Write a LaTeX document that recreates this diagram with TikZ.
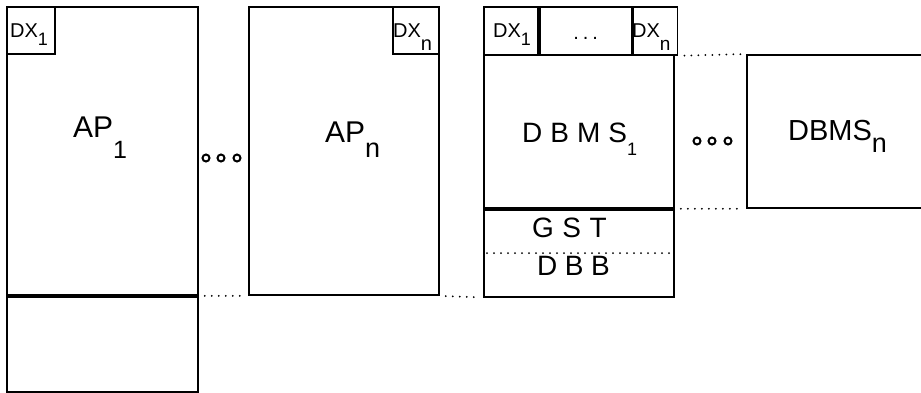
\documentclass[tikz,border=0pt]{standalone}
\usepackage{fontspec}
\setmainfont{Liberation Sans}
\usetikzlibrary{positioning}
\newcommand{\lowsub}[3]{\raisebox{-#1pt}{\fontsize{#2}{#2}\selectfont #3}}

\begin{document}
\begin{tikzpicture}[x=1pt,y=-1pt,
  frame/.style={draw,line width=1.8pt,inner sep=0pt,anchor=north west},
  gap/.style={line width=2pt,line cap=round,dash pattern=on 0pt off 7pt,shorten <=6pt,shorten >=5pt},
  ring/.style={draw,circle,line width=2pt,inner sep=0pt,minimum size=7pt},
  big/.style={font=\fontsize{30}{30}\selectfont,inner sep=0pt,anchor=base west},
  small/.style={font=\fontsize{20}{20}\selectfont,inner sep=0pt,anchor=base west}]
 \useasboundingbox (0,0) rectangle (921,392);
 % application processes
 \node[frame,minimum width=191pt,minimum height=288pt] (ap1) at (6,6) {};
 \node[frame,minimum width=191pt,minimum height=95pt] (ap1base) at (ap1.south west) {};
 \node[frame,minimum width=48pt,minimum height=47pt] (dxa) at (ap1.north west) {};
 \node[frame,minimum width=190pt,minimum height=288pt] (apn) at (248,6) {};
 \node[frame,anchor=north east,minimum width=46pt,minimum height=47pt] (dxb) at (apn.north east) {};
 % data base machine
 \node[frame,minimum width=54pt,minimum height=48pt] (dxc) at (483,6) {};
 \node[frame,minimum width=92pt,minimum height=48pt] (dxdots) at (dxc.north east) {};
 \node[frame,minimum width=44pt,minimum height=48pt] (dxd) at (dxdots.north east) {};
 \node[frame,minimum width=190pt,minimum height=153pt] (dbms1) at (483,54) {};
 \node[frame,minimum width=190pt,minimum height=87pt] (dbmslow) at (dbms1.south west) {};
 \node[frame,minimum width=200pt,minimum height=153pt] (dbmsn) at (746,54) {};
 % dotted joins
 \draw[gap] (ap1base.north east) -- (apn.south west);
 \draw[gap] (apn.south east) -- (dbmslow.south west);
 \draw[gap] (dxd.south east) -- (dbmsn.north west);
 \draw[gap] (dbms1.south east) -- (dbmsn.south west);
 \draw[gap,shorten <=4pt,shorten >=3pt] (dbmslow.west) -- (dbmslow.east);
 \foreach \x in {206,221,237} \node[ring] at (\x,158) {};
 \foreach \x in {697,712,728} \node[ring] at (\x,141) {};
 % labels
 \node[small] (dxalab) at (10,37) {DX\lowsub{8}{18}{1}};
 \node[small] (dxblab) at (393,37) {DX\lowsub{13}{20}{n}};
 \node[small] (dxclab) at (493,37) {DX\lowsub{8}{18}{1}};
 \node[small,anchor=base] (dotslab) at (dxdots.center |- 0,39) {.\kern4pt.\kern4pt.};
 \node[small] (dxdlab) at (632,37) {DX\lowsub{13}{19}{n}};
 \node[big] (ap1lab) at (73,137) {AP\lowsub{21}{25}{1}};
 \node[big] (apnlab) at (325,142) {AP\lowsub{15}{27}{n}};
 \node[big,font=\fontsize{28}{28}\selectfont] (dbms1lab) at (522,142) {D\kern8pt B\kern8pt M\kern8pt S\lowsub{13}{18}{1}};
 \node[big,font=\fontsize{29}{29}\selectfont] (dbmsnlab) at (788,140) {DBMS\lowsub{12}{27}{n}};
 \node[big,font=\fontsize{28}{28}\selectfont] (gstlab) at (532,237) {G\kern8.5pt S\kern8.5pt T};
 \node[big,font=\fontsize{28}{28}\selectfont] (dbblab) at (537,275) {D\kern7.5pt B\kern7.5pt B};
\end{tikzpicture}
\end{document}
